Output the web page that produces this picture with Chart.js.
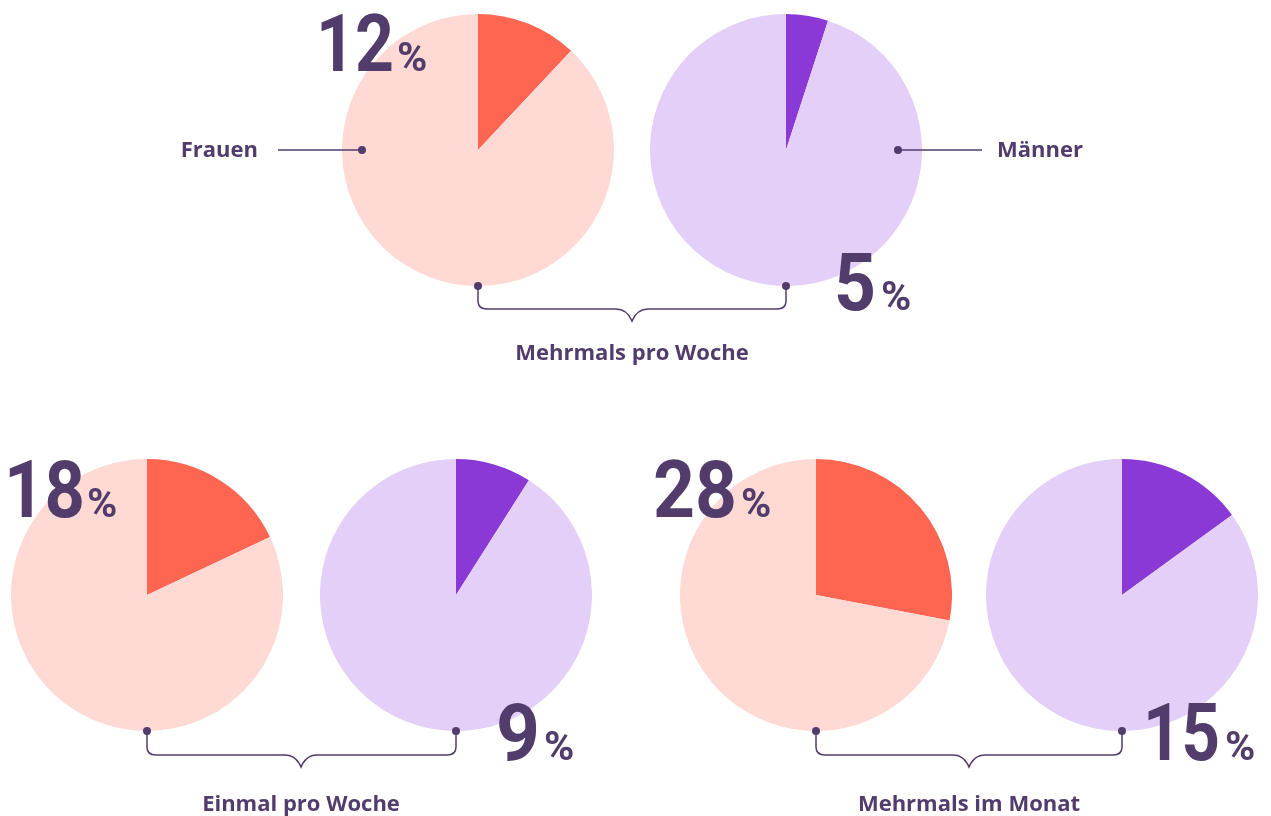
<!DOCTYPE html>
<html lang="de">
<head>
<meta charset="utf-8">
<title>Häufigkeit Frauen / Männer</title>
<script src="https://cdn.jsdelivr.net/npm/chart.js@4.4.1/dist/chart.umd.min.js"></script>
<style>
  html, body { margin: 0; padding: 0; background: #fff; }
  #stage { position: relative; width: 1271px; height: 816px; overflow: hidden; }
  .pie { position: absolute; width: 272px; height: 272px; }
  #overlay { position: absolute; left: 0; top: 0; pointer-events: none; }
  .num { font-family: Roboto, 'DejaVu Sans Condensed', sans-serif; font-weight: 700; fill: #523c6c; }
  .big { font-size: 80px; }
  .pct { font-size: 41px; }
  .lbl { font-family: 'Open Sans', Roboto, sans-serif; font-weight: 700; font-size: 22px; fill: #523c6c; }
</style>
</head>
<body>
<div id="stage">
  <canvas class="pie" id="pie0" width="272" height="272" style="left:342px;top:14px"></canvas>
  <canvas class="pie" id="pie1" width="272" height="272" style="left:650px;top:14px"></canvas>
  <canvas class="pie" id="pie2" width="272" height="272" style="left:11px;top:459px"></canvas>
  <canvas class="pie" id="pie3" width="272" height="272" style="left:320px;top:459px"></canvas>
  <canvas class="pie" id="pie4" width="272" height="272" style="left:680px;top:459px"></canvas>
  <canvas class="pie" id="pie5" width="272" height="272" style="left:986px;top:459px"></canvas>

  <svg id="overlay" width="1271" height="816" viewBox="0 0 1271 816">
    <g stroke="#523c6c" stroke-width="1.5" fill="none">
      <!-- Verbinder Frauen / Männer -->
      <line x1="278" y1="150" x2="362" y2="150"/>
      <line x1="898" y1="150" x2="982" y2="150"/>
      <!-- Klammern -->
      <path d="M478 286 V301 Q478 309 487 309 H616 Q627 309 632 321 Q637 309 648 309 H777 Q786 309 786 301 V286"/>
      <path d="M147 731 V747 Q147 755 156 755 H285 Q296 755 301 767 Q306 755 317 755 H447 Q456 755 456 747 V731"/>
      <path d="M816 731 V747 Q816 755 825 755 H953 Q964 755 969 767 Q974 755 985 755 H1113 Q1122 755 1122 747 V731"/>
    </g>
    <g fill="#523c6c">
      <circle cx="362" cy="150" r="4"/>
      <circle cx="898" cy="150" r="4"/>
      <circle cx="478" cy="286" r="4"/>
      <circle cx="786" cy="286" r="4"/>
      <circle cx="147" cy="731" r="4"/>
      <circle cx="456" cy="731" r="4"/>
      <circle cx="816" cy="731" r="4"/>
      <circle cx="1122" cy="731" r="4"/>
    </g>
    <g id="texts"></g>
  </svg>
</div>

<script>
const rhythmen = ['Mehrmals pro Woche', 'Einmal pro Woche', 'Mehrmals im Monat'];
const frauenWerte = [12, 18, 28];
const maennerWerte = [5, 9, 15];
const gruppen = ['Frauen', 'Männer'];

const farbeFrauen = ['#ff6651', '#ffd9d3'];
const farbeMaenner = ['#8a39d7', '#e3cff7'];

// pie order: Frauen/Männer for each rhythm
const pies = [];
rhythmen.forEach((r, i) => {
    pies.push({ wert: frauenWerte[i], farben: farbeFrauen, label: gruppen[0] + ' – ' + r });
    pies.push({ wert: maennerWerte[i], farben: farbeMaenner, label: gruppen[1] + ' – ' + r });
});

pies.forEach((p, i) => {
    new Chart(document.getElementById('pie' + i), {
        type: 'pie',
        data: {
            labels: [p.label, 'Rest'],
            datasets: [{
                data: [p.wert, 100 - p.wert],
                backgroundColor: p.farben,
                borderWidth: 0,
                hoverOffset: 0
            }]
        },
        options: {
            responsive: false,
            animation: false,
            layout: { padding: 0 },
            plugins: {
                legend: { display: false },
                tooltip: { enabled: false }
            }
        }
    });
});

// text overlay (numbers, group labels, rhythm labels)
const svgNS = 'http://www.w3.org/2000/svg';
const texts = document.getElementById('texts');
function txt(str, x, y, cls, anchor, len) {
    const t = document.createElementNS(svgNS, 'text');
    t.setAttribute('x', x);
    t.setAttribute('y', y);
    t.setAttribute('class', cls);
    t.setAttribute('text-anchor', anchor || 'start');
    if (len) {
        // condensed look like the original DIN-style numerals
        t.setAttribute('textLength', len);
        t.setAttribute('lengthAdjust', 'spacingAndGlyphs');
    }
    t.textContent = str;
    texts.appendChild(t);
}

// big value labels: left x, baseline, width, left of %
const zahlPos = [
    [316, 71, 78, 397],
    [834, 310, 42, 881],
    [4, 517, 81, 87],
    [496, 760, 44, 544],
    [653, 517, 84, 741],
    [1143, 760, 77, 1225]
];
pies.forEach((p, i) => {
    const [x, yb, w, xp] = zahlPos[i];
    txt(String(p.wert), x, yb, 'num big', 'start', w);
    txt('%', xp, yb, 'num pct', 'start');
});

txt(gruppen[0], 258, 157, 'lbl', 'end');
txt(gruppen[1], 997, 157, 'lbl', 'start');
txt(rhythmen[0], 632, 360, 'lbl', 'middle');
txt(rhythmen[1], 301, 811, 'lbl', 'middle');
txt(rhythmen[2], 969, 811, 'lbl', 'middle');
</script>
</body>
</html>
